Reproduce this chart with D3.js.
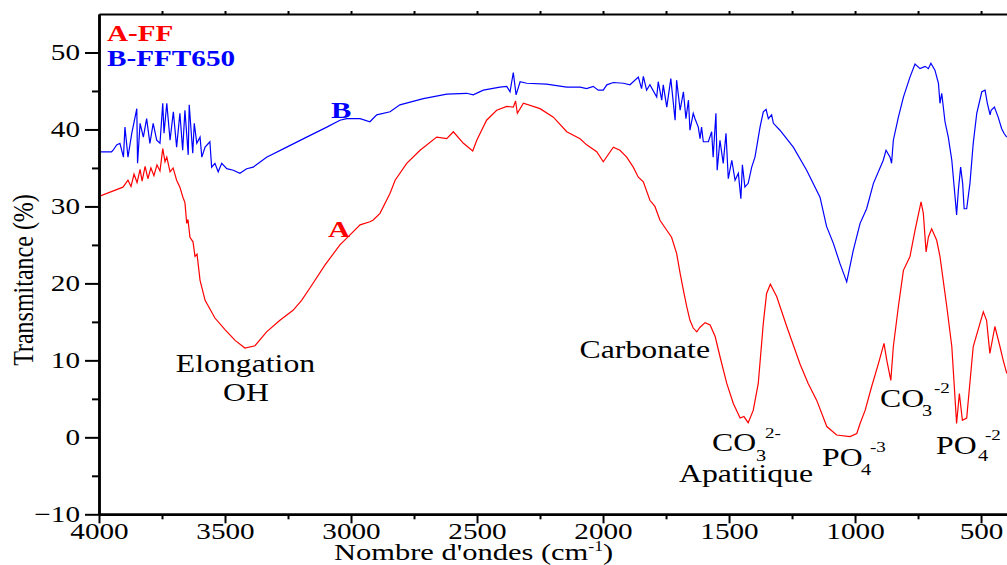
<!DOCTYPE html>
<html>
<head>
<meta charset="utf-8">
<script src="https://cdnjs.cloudflare.com/ajax/libs/d3/7.8.5/d3.min.js"></script>
<style>
body { margin: 0; background: #fff; }
svg { display: block; font-family: "Liberation Serif", "Times New Roman", serif; }
</style>
</head>
<body>
<svg id="chart" width="1007" height="565"></svg>
<script>
// ---- data (wavenumber in cm-1, transmittance in %) ----
var waveA = [4000,3905,3885,3873,3861,3849,3837,3829,3817,3806,3794,3782,3770,3758,3747,3738,3731,3718,3706,3692,
  3679,3667,3659,3652,3647,3639,3627,3619,3611,3599,3579,3540,3500,3460,3421,3381,3335,3282,3230,3196,
  3163,3103,3044,3004,2964,2925,2913,2885,2845,2825,2779,2726,2660,2620,2594,2554,2517,2501,2462,2422,
  2382,2356,2347,2340,2316,2250,2197,2144,2091,2065,2025,1999,1959,1933,1906,1880,1860,1840,1814,1794,
  1774,1747,1728,1708,1694,1681,1668,1655,1642,1628,1615,1595,1575,1555,1536,1509,1483,1456,1441,1424,
  1404,1384,1364,1351,1336,1311,1271,1218,1186,1152,1112,1073,1020,993,980,960,934,907,885,874,
  858,848,828,808,782,762,738,729,718,709,696,676,663,636,616,597,586,574,557,531,
  491,478,465,445,425,412,398];
var transA = [31.3,32.5,33.4,32.6,34.2,33.1,34.8,33.3,35.2,33.6,35.0,34.0,35.4,34.6,37.5,35.8,36.4,34.5,35.0,33.4,
  32.5,31.2,30.5,27.8,28.3,26.0,25.4,23.5,23.8,20.4,17.8,15.5,14.0,12.6,11.6,11.9,13.7,15.2,16.5,17.8,
  19.4,22.4,25.0,26.3,27.6,28.0,28.2,29.1,31.7,33.4,35.6,37.3,39.0,38.8,39.7,38.2,37.2,38.6,41.2,42.5,
  43.0,42.9,43.7,42.1,43.4,42.7,41.6,39.7,38.8,38.0,37.1,35.8,37.7,37.3,36.4,35.1,33.8,33.2,30.8,30.0,
  28.2,26.9,26.0,23.9,21.3,19.1,17.0,15.2,14.2,13.7,14.3,14.9,14.6,13.1,10.5,7.0,4.4,2.5,2.7,1.9,
  3.5,7.0,14.8,18.7,19.9,18.3,14.4,9.5,7.0,4.8,1.4,0.3,0.1,0.5,1.8,3.5,6.6,9.6,12.2,10.0,
  7.4,11.8,17.0,21.7,23.5,26.9,30.6,29.1,24.1,26.0,27.1,25.6,23.5,17.0,11.8,1.8,5.7,2.2,2.5,11.8,
  16.3,15.2,10.9,14.4,11.8,10.0,8.3];

var waveB = [4000,3950,3944,3930,3917,3903,3897,3885,3870,3850,3847,3837,3824,3811,3798,3785,3771,3758,3747,3742,
  3731,3718,3705,3692,3679,3668,3659,3646,3642,3628,3622,3612,3599,3592,3579,3560,3553,3540,3527,3513,
  3493,3467,3441,3414,3388,3335,3255,3176,3096,3044,3017,2964,2925,2898,2845,2806,2713,2620,2541,2515,
  2475,2409,2382,2369,2356,2345,2329,2303,2224,2144,2091,2065,2039,2019,1999,1985,1959,1919,1893,1860,
  1847,1840,1827,1814,1787,1781,1767,1761,1747,1731,1714,1708,1694,1681,1671,1661,1655,1642,1635,1622,
  1615,1609,1602,1582,1569,1563,1552,1547,1536,1523,1512,1503,1489,1476,1463,1453,1447,1437,1424,1410,
  1397,1377,1364,1353,1344,1331,1324,1298,1245,1192,1139,1113,1086,1060,1033,1007,980,954,927,888,
  877,861,855,848,828,808,782,762,742,722,709,699,683,669,663,656,643,630,616,603,
  597,590,581,573,567,557,544,531,517,497,484,475,464,460,447,432,418,409,398];
var transB = [37.1,37.1,37.3,38.0,38.2,36.4,40.3,36.4,39.5,42.7,35.6,40.8,39.0,41.4,38.2,40.8,38.6,38.2,43.4,39.5,
  43.4,38.6,42.3,37.7,42.1,37.3,42.5,36.7,43.2,36.9,40.8,38.2,39.0,36.4,37.7,38.4,35.1,35.6,34.5,35.6,
  34.9,34.7,34.3,34.9,35.1,36.4,37.7,39.0,40.3,41.2,41.4,41.4,41.0,41.9,42.3,43.2,44.0,44.6,44.7,44.5,
  45.1,45.5,45.6,44.9,47.4,44.5,46.2,46.0,45.9,45.5,45.5,45.3,45.6,45.1,45.1,45.8,46.1,46.0,45.8,46.8,
  45.3,46.9,45.1,45.8,44.2,46.2,43.8,45.8,42.9,46.6,41.2,46.4,42.5,44.9,41.4,43.8,39.9,42.1,41.4,40.3,
  38.8,40.3,38.4,38.4,39.7,36.4,42.1,34.7,38.6,35.6,39.5,33.6,36.0,33.4,34.3,31.0,35.4,32.5,33.0,35.1,
  36.4,40.3,42.3,42.6,41.4,41.9,40.8,39.9,37.7,34.7,31.2,27.4,25.2,22.6,20.2,24.3,27.8,29.7,33.0,36.0,
  37.3,36.4,35.6,38.6,41.6,44.2,46.8,48.5,47.9,48.2,47.9,48.6,47.7,46.0,43.4,44.7,41.0,39.0,36.0,31.2,
  28.9,32.1,35.1,33.0,29.7,29.7,33.0,38.2,42.1,44.9,45.1,43.4,41.9,42.5,42.9,41.6,40.1,39.5,39.0];

var xTicks = [4000,3500,3000,2500,2000,1500,1000,500];
var xMinorTicks = [3750,3250,2750,2250,1750,1250,750];
var xTopTicks = [3750,3500,3250,3000,2750,2500,2250,2000,1750,1500,1250,1000,750,500];
var yTicks = [-10,0,10,20,30,40,50];
var yMinorTicks = [-5,5,15,25,35,45];

// ---- layout ----
var STRETCH = 1.27;
var RED = '#ff0000', BLUE = '#0000ff';

var svg = d3.select('#chart');
var x = d3.scaleLinear().domain([4000, 397]).range([99, 1007]);
var y = d3.scaleLinear().domain([-10, 55]).range([514.3, 14]);

svg.append('defs').append('clipPath').attr('id', 'plot')
  .append('rect').attr('x', 99).attr('y', 10).attr('width', 908).attr('height', 505);

function pairs(w, t) { return w.map(function(v, i) { return [v, t[i]]; }); }
var line = d3.line().x(function(d) { return x(d[0]); }).y(function(d) { return y(d[1]); });

svg.append('path').datum(pairs(waveA, transA))
  .attr('fill', 'none').attr('stroke', RED).attr('stroke-width', 1.2)
  .attr('clip-path', 'url(#plot)').attr('d', line);
svg.append('path').datum(pairs(waveB, transB))
  .attr('fill', 'none').attr('stroke', BLUE).attr('stroke-width', 1.2)
  .attr('clip-path', 'url(#plot)').attr('d', line);

// ---- axes ----
function styleAxis(g, w) {
  g.select('.domain').attr('stroke', '#000').attr('stroke-width', w);
  g.selectAll('.tick line').attr('stroke', '#000').attr('stroke-width', 2);
}

var gxMinor = svg.append('g').attr('transform', 'translate(0,514.3)')
  .call(d3.axisBottom(x).tickValues(xMinorTicks).tickSize(5).tickSizeOuter(0).tickFormat(''));
styleAxis(gxMinor, 2.5);

var gx = svg.append('g').attr('transform', 'translate(0,514.3)')
  .call(d3.axisBottom(x).tickValues(xTicks).tickSize(9).tickSizeOuter(0).tickFormat(d3.format('d')));
styleAxis(gx, 2.5);
gx.selectAll('.tick text')
  .attr('fill', '#000').attr('font-size', 23).attr('font-family', 'Liberation Serif')
  .attr('dy', null).attr('y', 24.5)
  .attr('transform', 'scale(' + STRETCH + ',1)');

var gTop = svg.append('g').attr('transform', 'translate(0,14)')
  .call(d3.axisTop(x).tickValues(xTopTicks).tickSize(3).tickSizeOuter(0).tickFormat(''));
styleAxis(gTop, 2);

var gyMinor = svg.append('g').attr('transform', 'translate(99,0)')
  .call(d3.axisLeft(y).tickValues(yMinorTicks).tickSize(7).tickSizeOuter(0).tickFormat(''));
styleAxis(gyMinor, 2.5);

var gy = svg.append('g').attr('transform', 'translate(99,0)')
  .call(d3.axisLeft(y).tickValues(yTicks).tickSize(14).tickSizeOuter(0).tickFormat(d3.format('d')));
styleAxis(gy, 2.5);
gy.selectAll('.tick text')
  .attr('fill', '#000').attr('font-size', 23).attr('font-family', 'Liberation Serif')
  .attr('dy', null).attr('y', 7).attr('x', -19 / STRETCH)
  .attr('transform', 'scale(' + STRETCH + ',1)');

// ---- texts ----
function label(txt, px, py, size, color, bold, anchor) {
  return svg.append('text')
    .attr('transform', 'translate(' + px + ',' + py + ') scale(' + STRETCH + ',1)')
    .attr('font-size', size)
    .attr('fill', color || '#000')
    .attr('font-weight', bold ? 'bold' : 'normal')
    .attr('text-anchor', anchor || 'start')
    .text(txt);
}

svg.append('text')
  .attr('transform', 'translate(33,280) scale(' + STRETCH + ',1) rotate(-90)')
  .attr('font-size', 24).attr('text-anchor', 'middle').attr('fill', '#000')
  .text('Transmitance (%)');

var xt = svg.append('text')
  .attr('transform', 'translate(334,560) scale(' + STRETCH + ',1)')
  .attr('font-size', 24).attr('fill', '#000');
xt.append('tspan').text("Nombre d'ondes (cm");
xt.append('tspan').attr('font-size', 14).attr('dy', -9).text('-1');
xt.append('tspan').attr('dy', 9).text(')');

// legend
label('A-FF', 107, 41, 23, RED, true);
label('B-FFT650', 107, 66, 23, BLUE, true);
label('B', 331, 118, 24, BLUE, true);
label('A', 328, 237, 24, RED, true);

// band assignments
label('Elongation', 245.5, 372, 25, '#000', false, 'middle');
label('OH', 246, 401, 25, '#000', false, 'middle');
label('Carbonate', 710, 358, 25, '#000', false, 'end');
label('CO', 712, 451, 25);
label('3', 756, 461, 16);
label('2-', 765, 438, 15);
label('Apatitique', 679, 482, 25);
label('PO', 822, 466, 25);
label('4', 861, 475, 16);
label('-3', 870, 452, 15);
label('CO', 880, 407, 25);
label('3', 922, 416, 16);
label('-2', 934, 393, 15);
label('PO', 936, 454, 25);
label('4', 978, 461, 16);
label('-2', 985, 440, 15);
</script>
</body>
</html>
